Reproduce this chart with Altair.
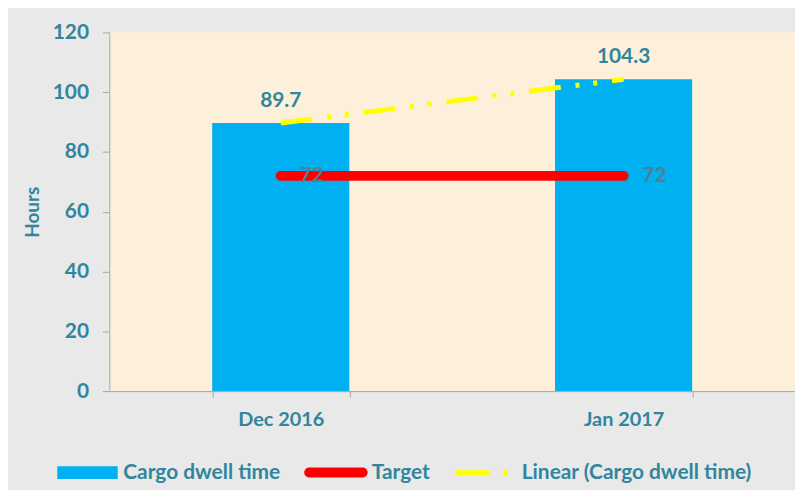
import altair as alt
import pandas as pd

categories = ["Dec 2016", "Jan 2017"]
dwell_time = [89.7, 104.3]
target = [72, 72]
trend = [89.7, 104.3]
series_names = ["Cargo dwell time", "Target", "Linear (Cargo dwell time)"]
series_colors = ["#00B0F0", "#FF0000", "#FFFF00"]
y_ticks = [0, 20, 40, 60, 80, 100, 120]

bars_df = pd.DataFrame({"month": categories, "value": dwell_time, "series": series_names[0]})
target_df = pd.DataFrame({"month": categories, "value": target, "series": series_names[1]})
trend_df = pd.DataFrame({"month": categories, "value": trend, "series": series_names[2]})

TEAL = "#31859C"
FONT = "Lato"
GRAY = "#A6A6A6"

x = alt.X(
    "month:N",
    sort=categories,
    scale=alt.Scale(paddingInner=0.6, paddingOuter=0.3),
    axis=alt.Axis(
        title=None, labelAngle=0, tickBand="extent", tickSize=6, tickColor=GRAY,
        domainColor=GRAY, labelPadding=13, labelFont=FONT, labelFontSize=20,
        labelFontWeight="bold", labelColor=TEAL,
    ),
)
y = alt.Y(
    "value:Q",
    scale=alt.Scale(domain=[0, 120], nice=False),
    axis=alt.Axis(
        values=y_ticks, title="Hours", grid=False, tickSize=7, tickColor=GRAY,
        domainColor=GRAY, labelPadding=14, labelFont=FONT, labelFontSize=21,
        labelFontWeight="bold", labelColor=TEAL, titleFont=FONT, titleFontSize=19,
        titleFontWeight="bold", titleColor=TEAL, titlePadding=10,
    ),
)

is_bar = "datum.value === 'Cargo dwell time'"
is_tgt = "datum.value === 'Target'"
bar_path = "M-0.95,-0.2H0.95V0.2H-0.95Z"
tgt_path = "M-0.84,-0.156H0.84A0.156,0.156 0 0 1 0.84,0.156H-0.84A0.156,0.156 0 0 1 -0.84,-0.156Z"
trend_path = "M-0.97,-0.075H0.125V0.075H-0.97ZM0.53,-0.075H0.69V0.075H0.53Z"
legend = alt.Legend(
    title=None, orient="none", legendX=-54, legendY=411, direction="horizontal",
    symbolSize=4096, labelFont=FONT, labelFontSize=21, labelFontWeight="bold",
    labelColor=TEAL, columnPadding=24, labelOffset=4, labelLimit=0, symbolOpacity=1,
    symbolStrokeWidth=0,
    symbolType=alt.ExprRef(expr=f"{is_bar} ? '{bar_path}' : {is_tgt} ? '{tgt_path}' : '{trend_path}'"),
    symbolFillColor=alt.ExprRef(expr=f"{is_bar} ? '#00B0F0' : {is_tgt} ? '#FF0000' : '#FFFF00'"),
    symbolStrokeColor="transparent",
)
color = alt.Color("series:N", scale=alt.Scale(domain=series_names, range=series_colors), legend=legend)

bars = alt.Chart(bars_df).mark_bar().encode(x=x, y=y, color=color)
bar_labels = alt.Chart(bars_df).mark_text(
    dy=-16, baseline="alphabetic", font=FONT, fontSize=21, fontWeight="bold", color=TEAL
).encode(x=x, y=y, text=alt.Text("value:Q", format=".1f"))

target_line = alt.Chart(target_df).mark_line(strokeWidth=10, strokeCap="round").encode(
    x=x, y=y, color=color
)
target_labels = alt.Chart(target_df).mark_text(
    dx=31, baseline="middle", font=FONT, fontSize=21, fontWeight="bold", color="#4F808C"
).encode(x=x, y=y, text=alt.Text("value:Q"))

trend_line = alt.Chart(trend_df).mark_line(strokeWidth=5, strokeDash=[32, 15, 4, 14, 4, 15]).encode(
    x=x, y=y, color=color
)

chart = alt.layer(bars, target_line, trend_line, target_labels, bar_labels).properties(
    width=690, height=361,
    autosize=alt.AutoSizeParams(type="none"),
    padding={"left": 102, "top": 23, "right": 0, "bottom": 98},
    background="#E9E9E9",
).configure_view(fill="#FDF0DA", stroke=None)

chart.save("out.html", embed_options={"renderer": "svg", "actions": False})
